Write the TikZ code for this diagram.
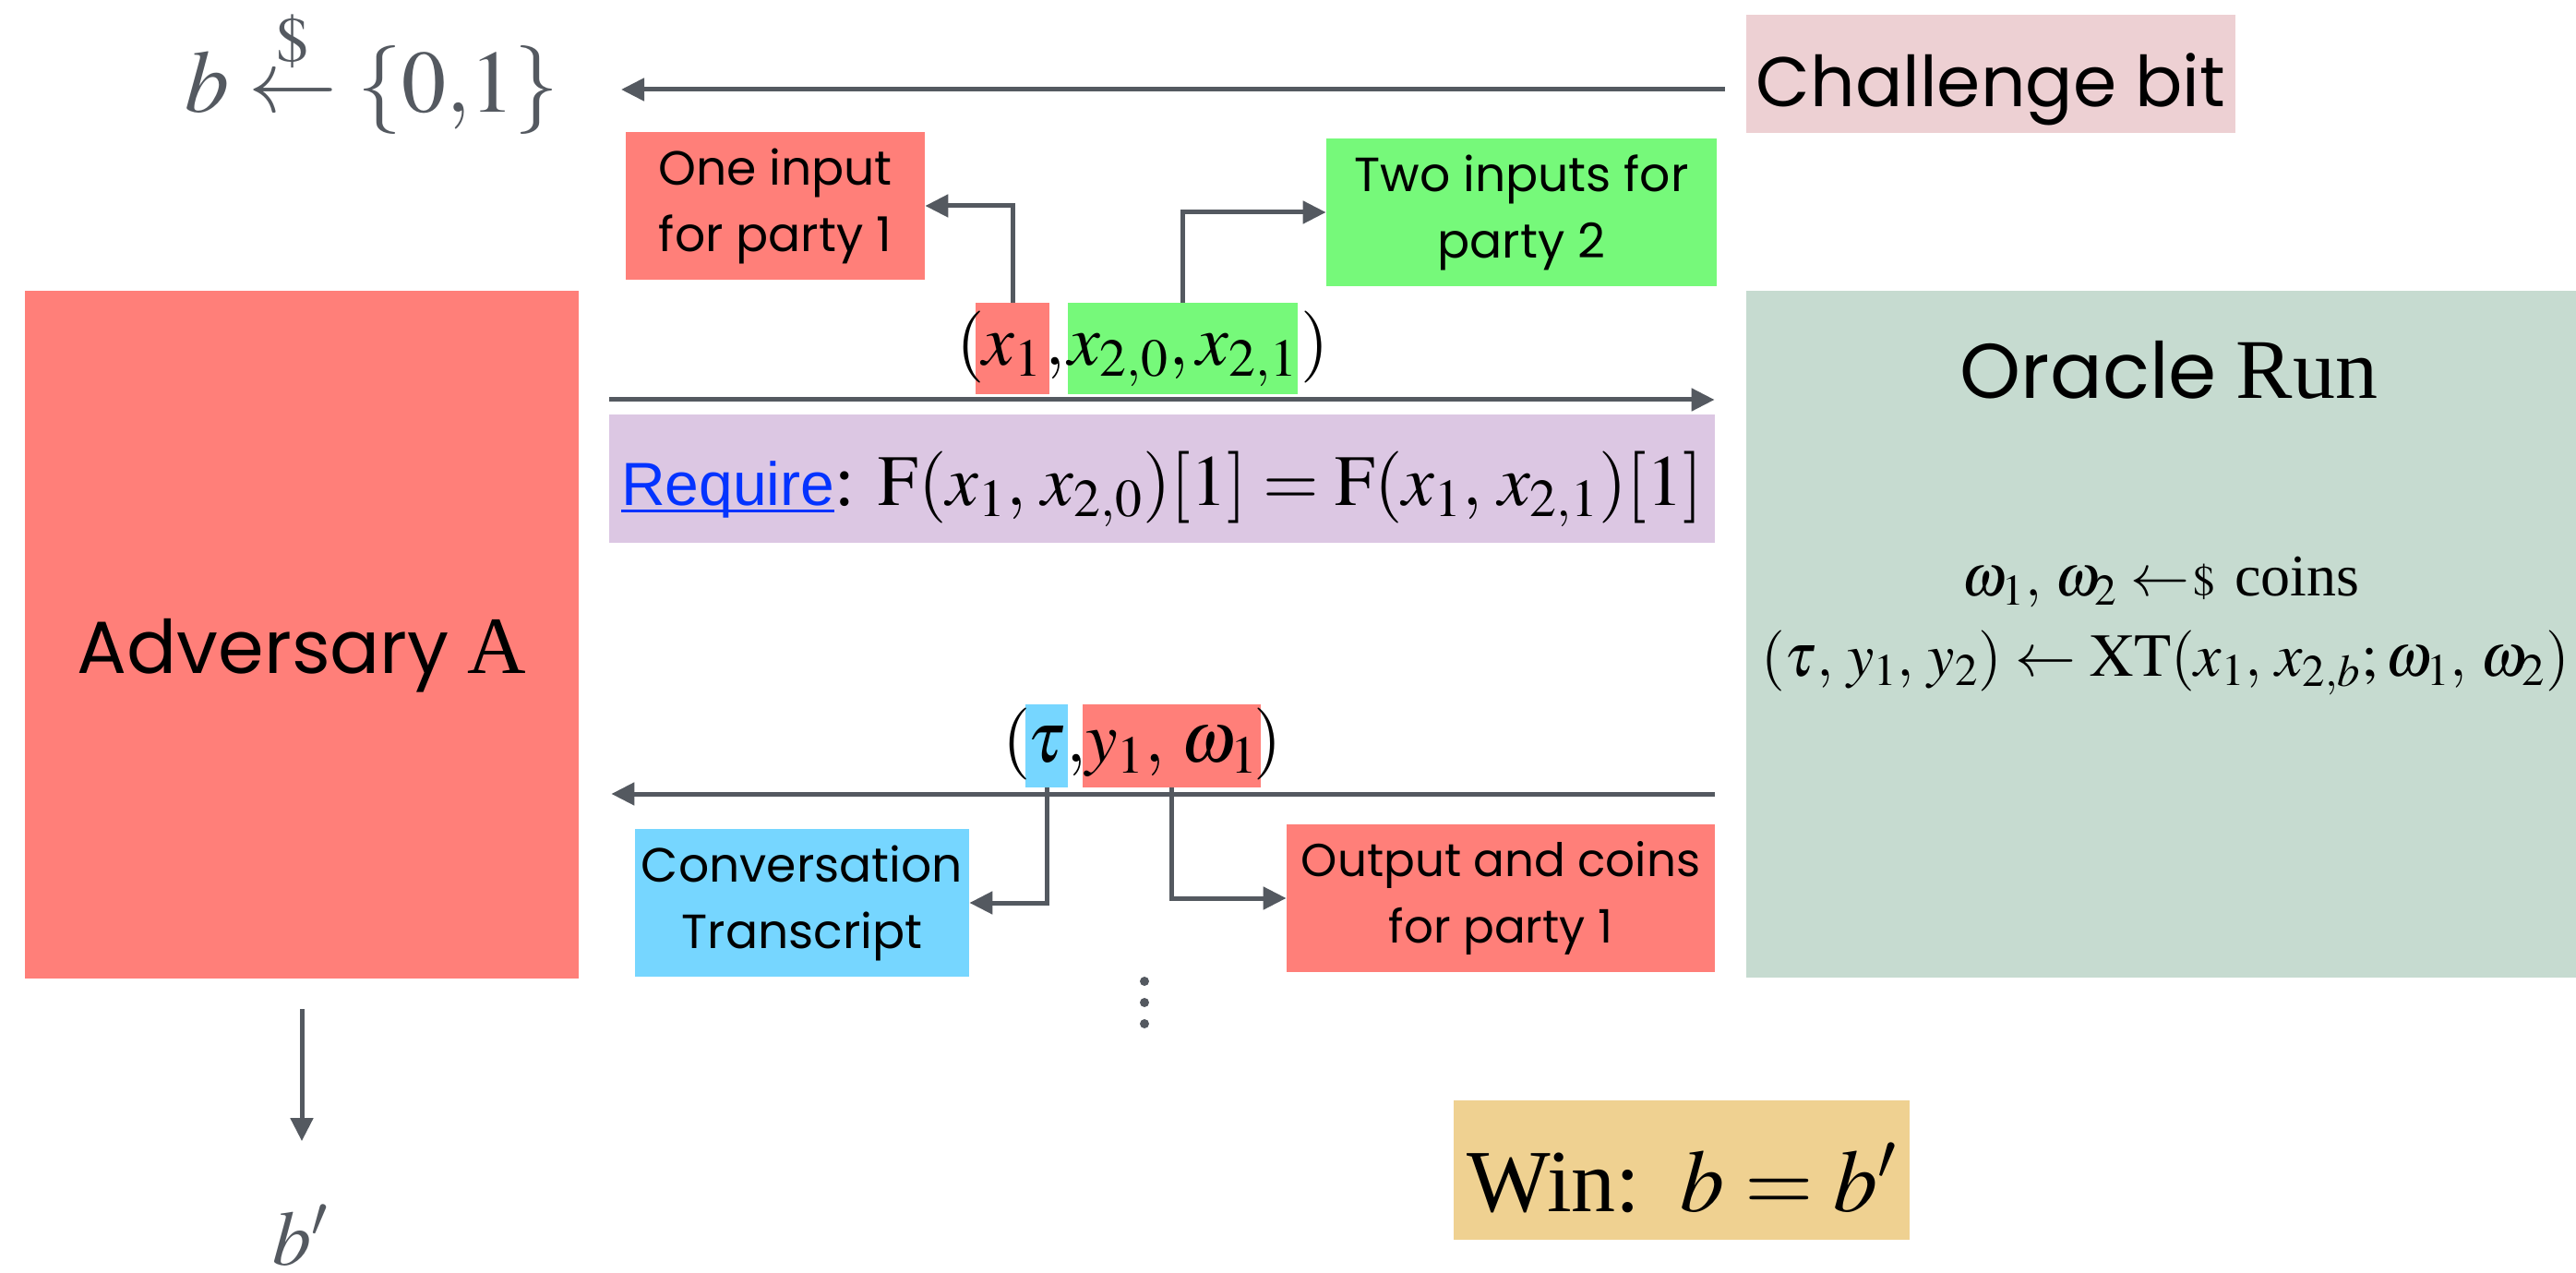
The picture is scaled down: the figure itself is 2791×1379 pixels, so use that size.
\documentclass[tikz,border=0pt]{standalone}
\usepackage{amsmath}
\usepackage{mathptmx}
\usepackage[no-math]{fontspec}
\setmainfont{Liberation Serif}
\newfontfamily\geo{Poppins}
\newfontfamily\helv{Liberation Sans}
\usetikzlibrary{arrows.meta}

\definecolor{arrowgray}{RGB}{84,89,96}
\definecolor{advred}{RGB}{255,127,121}
\definecolor{inpgreen}{RGB}{118,249,122}
\definecolor{trblue}{RGB}{118,214,255}
\definecolor{reqpurple}{RGB}{220,199,227}
\definecolor{oraclegreen}{RGB}{198,219,208}
\definecolor{chalpink}{RGB}{237,208,211}
\definecolor{winyellow}{RGB}{239,209,145}
\definecolor{linkblue}{RGB}{4,51,255}

% underline drawn at a fixed offset below the baseline
\newcommand\linkline[1]{\setbox0\hbox{#1}\rlap{\vrule height -2pt depth 3.5pt width \wd0}\box0}
% argument separator with a little extra room
\newcommand\argsep{,\mskip 2mu}

\begin{document}
\begin{tikzpicture}[x=0.5pt, y=-0.5pt,
  arr/.style={draw=arrowgray, line width=2.5pt, -{Triangle[length=12.5pt,width=12pt]}},
  panel/.style={inner sep=0pt, fill=#1},
  tag/.style={inner sep=0pt, fill=#1, align=center, font=\geo\fontsize{26}{36}\selectfont},
  hl/.style={inner sep=0pt, fill=#1, font=\fontsize{39}{47}\selectfont},
  glyph/.style={inner sep=0pt, font=\fontsize{39}{47}\selectfont},
]
\useasboundingbox (0,0) rectangle (2791,1379);

% the two parties
\node[panel=advred, minimum width=300pt, minimum height=372.5pt] (adv) at (327,687.5) {};
\node[inner sep=0pt, anchor=base, font=\fontsize{40}{48}\selectfont] (advname) at (327,730) {{\geo Adversary} {\fontsize{44}{50}\selectfont A}};

\node[panel=oraclegreen, minimum width=449.5pt, minimum height=372pt] (oracle) at (2341.5,687) {};
\node[inner sep=0pt, anchor=base, font=\fontsize{42}{50}\selectfont] (orctitle) at (2350,432) {{\geo Oracle} {\fontsize{46}{52}\selectfont Run}};
\node[inner sep=0pt, anchor=base, font=\fontsize{32}{38}\selectfont] (orcl1) at (2341,646) {$\omega_1\argsep \omega_2 \mathrel{\leftarrow\mkern-3mu{\scriptstyle\$}}\,\text{coins}$};
\node[inner sep=0pt, anchor=base, font=\fontsize{33}{40}\selectfont] (orcl2) at (2346,733) {$(\tau\argsep y_1\argsep y_2) \leftarrow \mathrm{XT}(x_1\argsep x_{2,b}; \omega_1\argsep \omega_2)$};

% challenge bit
\node[panel=chalpink, minimum width=265pt, text height=50pt, text depth=14pt, font=\geo\fontsize{38}{46}\selectfont] (chal) at (2157,80) {Challenge bit};
\node[inner sep=0pt, anchor=base west, text=arrowgray, font=\fontsize{48}{56}\selectfont] (bsamp) at (200,122) {$b \overset{\$}{\leftarrow} \{0{,}1\}$};
\coordinate (topTip) at (673,97);
\draw[arr, shorten <=11.5pt] (chal.west |- topTip) -- (topTip);

% query tuple
\node[hl=advred, minimum width=40pt, text height=34pt, text depth=15.5pt, anchor=base] (xone) at (1097,396) {$x_1$};
\node[hl=inpgreen, minimum width=120.5pt, text height=34pt, text depth=15.5pt, anchor=base] (xtwo) at (1281.5,396) {$x_{2,0}, x_{2,1}$};
\node[glyph, anchor=base east] (lpin) at (1067,396) {$($};
\node[glyph, anchor=base] (cmin) at (1143,396) {$,$};
\node[glyph, anchor=base east] (rpin) at (1440,396) {$)$};

\node[tag=advred, minimum width=162pt, minimum height=80pt] (onein) at (840,223) {One input\\for party 1};
\node[tag=inpgreen, minimum width=211.5pt, minimum height=80pt] (twoin) at (1648.5,230) {Two inputs for\\party 2};
\draw[arr] (xone.north) |- (onein.east);
\draw[arr] (xtwo.north) |- (twoin.west);

\coordinate (sendY) at (0,433);
\draw[arr, shorten <=16.5pt, shorten >=17pt] (adv.east |- sendY) -- (oracle.west |- sendY);

\node[panel=reqpurple, minimum width=599pt, text height=49.5pt, text depth=20pt, font=\fontsize{39}{47}\selectfont] (req) at (1259,518.5) {{\helv\fontsize{33}{40}\selectfont\color{linkblue}\linkline{Require}}: $\mathrm{F}(x_1\argsep x_{2,0})[1] = \mathrm{F}(x_1\argsep x_{2,1})[1]$};

% answer tuple
\coordinate (backY) at (0,860);
\draw[arr, shorten <=17pt, shorten >=17.5pt] (oracle.west |- backY) -- (adv.east |- backY);

\node[hl=trblue, minimum width=23pt, text height=31.5pt, text depth=13.5pt, anchor=base] (tau) at (1134,826) {$\tau$};
\node[hl=advred, minimum width=96.5pt, text height=31.5pt, text depth=13.5pt, anchor=base] (yo) at (1269.5,826) {$y_1\argsep \omega_1$};
\node[glyph, anchor=base east] (lpout) at (1117,826) {$($};
\node[glyph, anchor=base] (cmout) at (1166,826) {$,$};
\node[glyph, anchor=base east] (rpout) at (1389,826) {$)$};

\node[tag=trblue, minimum width=181pt, minimum height=80pt] (conv) at (869,978) {Conversation\\Transcript};
\node[tag=advred, minimum width=232pt, minimum height=80pt, font=\geo\fontsize{25}{36}\selectfont] (outp) at (1626,973) {Output and coins\\for party 1};
\draw[arr] (tau.south) |- (conv.east);
\draw[arr] (yo.south) |- (outp.west);

% more rounds
\foreach \yy in {1063,1086,1109} \fill[arrowgray] (1240,\yy) circle (2.5pt);

% output guess
\node[inner sep=0pt, anchor=base, text=arrowgray, font=\fontsize{42}{50}\selectfont] (bprime) at (326,1370) {$b'$};
\draw[arr, shorten <=16.5pt, shorten >=34.5pt] (adv.south) -- (adv.south |- bprime.north);

\node[panel=winyellow, minimum width=247pt, text height=60pt, text depth=15.5pt, font=\fontsize{48}{56}\selectfont] (win) at (1822,1267.5) {Win:\hspace{0.45em}$b = b'$};
\end{tikzpicture}
\end{document}
